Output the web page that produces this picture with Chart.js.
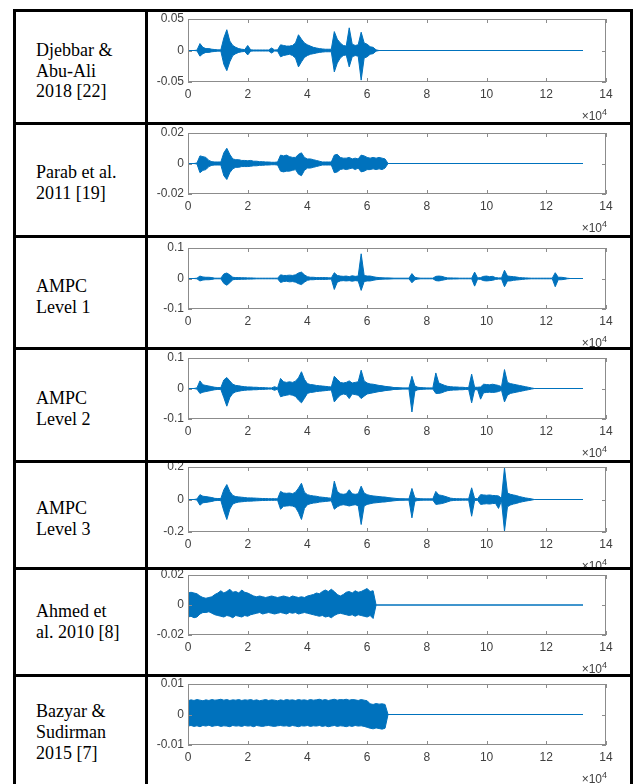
<!DOCTYPE html>
<html lang="en">
<head>
<meta charset="UTF-8" />
<title>Stego audio waveforms</title>
<script src="https://cdn.jsdelivr.net/npm/chart.js"></script>
<style>
  body {
    margin: 0;
    width: 636px;
    height: 784px;
    overflow: hidden;
    position: relative;
    background: white;
    font-family: 'Liberation Serif', 'Times New Roman', serif;
  }
  .rule { position: absolute; background: #000; z-index: 5; }
  .name {
    position: absolute;
    left: 16px;
    width: 129px;
    padding-left: 20px;
    box-sizing: border-box;
    display: flex;
    align-items: center;
    font-size: 18px;
    line-height: 20.7px;
    color: #000;
  }
  canvas { position: absolute; left: 148px; z-index: 1; }
</style>
</head>
<body>
<script>
  // ---- data ----
  const sampleStep = 1000;      // one envelope value every 1000 samples
  const totalSamples = 132300;  // every recording ends here (flat line)
  const xMax = 140000;
  const xTickStep = 20000;      // labels shown as 0..14 (x10^4)

  const rowNames = [
    ['Djebbar &', 'Abu-Ali', '2018 [22]'],
    ['Parab et al.', '2011 [19]'],
    ['AMPC', 'Level 1'],
    ['AMPC', 'Level 2'],
    ['AMPC', 'Level 3'],
    ['Ahmed et', 'al. 2010 [8]'],
    ['Bazyar &', 'Sudirman', '2015 [7]']
  ];
  const yLimits = [0.05, 0.02, 0.1, 0.1, 0.2, 0.02, 0.01];
  const yTickLabels = [
    ['-0.05', '0', '0.05'],
    ['-0.02', '0', '0.02'],
    ['-0.1', '0', '0.1'],
    ['-0.1', '0', '0.1'],
    ['-0.2', '0', '0.2'],
    ['-0.02', '0', '0.02'],
    ['-0.01', '0', '0.01']
  ];

  // upper / lower envelopes, units of 1e-3
  const djebbarHi = [0,0,0,0.5,11,5,3,3,2,1.5, 1,1,20,33,15,8,5,3,2,1.5, 8,1,0.8,0.8,0.8,0.8,0.8,0.8,4,0.8,
    1,9,8,7,7,8,12,25,18,12, 9,7,5,4,3,2.5,2,2,2,30, 18,12,8,7,36,10,8,9,29,12, 10,6,5,1,0];
  const djebbarLo = [0,0,0,-0.5,-9,-5,-3,-3,-2,-1.5, -1,-1,-22,-32,-18,-8,-5,-3,-2,-1.5, -7,-1,-0.8,-0.8,-0.8,-0.8,-0.8,-0.8,-4,-0.8,
    -1,-10,-8,-7,-6,-8,-12,-26,-18,-11, -8,-6,-5,-4,-3,-2.5,-2,-2,-2,-34, -20,-12,-8,-7,-26,-10,-8,-9,-47,-12, -10,-6,-5,-1,0];

  const parabHi = [0,0,0,0.3,5,4.5,4,2,1.2,1, 1,1,7,10,6,3,2.5,2.5,2,2, 1.8,2,1.5,1.5,1.2,1.2,1,1,0.8,0.8,
    1,5.5,5,5.5,4.5,4,4,6,7,4, 3,3,2.5,2,1.5,1,1,1,1,5.5, 6,4,3.5,3.5,4,3,3.5,3,5.5,5, 4,3.5,4,3.5,4,3.5,3,0];
  const parabLo = [0,0,0,-0.3,-6,-4.5,-4,-2,-1.2,-1, -1,-1,-8,-10.5,-6,-3.5,-2.5,-2.5,-2,-2, -2,-1.8,-1.5,-1.5,-1.2,-1.2,-1,-1,-0.8,-0.8,
    -1,-5,-5.5,-5,-5,-4.5,-4,-7,-8,-4.5, -3,-3,-2.5,-2,-1.5,-1,-1,-1,-1,-6, -5.5,-4,-3.5,-4,-3.5,-3,-4,-3,-5.5,-5, -4,-4,-3.5,-4,-3.5,-4,-3,0];

  const ampc1Hi = [0,0,0,1,8,5,4,4,3,1, 1,1,15,18,12,4,3,3,2.5,2.5, 2,2,1.5,1,1,1,1,1,1,1,
    1,12,10,10,11,10,12,18,21,12, 6,4,4,3,3,3,3,2.5,2,19, 10,8,7,8,6,9,7,8,81,10,
    8,8,6,4,3,2.5,2,2,1.5,1, 1,1,1,1,1,16,4,2,1,1, 1,1,1,7,8,7,4,2,2,1.5,
    1.5,1,1,1,1,1,21,2,3,7, 8,6,7,3,2,2,27,8,7,6, 5,3,2.5,2,1.5,1,1,1,1,1, 1,1,1,19,4,4,3,1,0];
  const ampc1Lo = [0,0,0,-1,-8,-5,-4,-4,-3,-1, -1,-1,-16,-22,-14,-4,-3,-3,-2.5,-2.5, -2,-2,-1.5,-1,-1,-1,-1,-1,-1,-1,
    -1,-13,-10,-9,-11,-10,-12,-17,-20,-12, -6,-4,-4,-3,-3,-3,-3,-2.5,-2,-36, -12,-8,-7,-8,-7,-9,-7,-8,-39,-10,
    -8,-8,-6,-4,-3,-2.5,-2,-2,-1.5,-1, -1,-1,-1,-1,-1,-14,-4,-2,-1,-1, -1,-1,-1,-7,-8,-6,-4,-2,-2,-1.5,
    -1.5,-1,-1,-1,-1,-1,-25,-2,-3,-7, -8,-7,-6,-3,-2,-2,-27,-8,-8,-6, -5,-4,-3,-2,-1.5,-1,-1,-1,-1,-1, -1,-1,-1,-27,-4,-4,-3,-1,0];

  const ampc2Hi = [0,0,0,2,25,12,10,8,6,4, 3,3,28,36,25,14,10,9,7,6, 5,5,4,4,3,3,2.5,2,2,6,
    2,33,22,20,22,20,24,35,55,30, 16,13,12,10,9,8,7,6,5,40, 30,20,18,20,25,18,20,22,60,25,
    18,15,14,12,10,9,7,6,5,3, 3,2.5,2,2,2,40,8,4,3,2.5, 2,2,2,51,18,14,10,7,6,5,
    5,4,4,3,3,47,4,4,5,14, 13,12,14,12,10,6,62,20,16,14, 12,10,8,6,4,2,0];
  const ampc2Lo = [0,0,0,-2,-16,-12,-10,-8,-6,-4, -3,-3,-30,-58,-30,-16,-11,-9,-7,-6, -5,-5,-4,-4,-3,-3,-2.5,-2,-2,-6,
    -2,-27,-24,-22,-20,-22,-26,-38,-47,-32, -16,-13,-12,-10,-9,-8,-7,-6,-5,-44, -32,-22,-18,-20,-33,-18,-20,-22,-33,-25,
    -18,-16,-14,-12,-10,-9,-7,-6,-5,-3, -3,-2.5,-2,-2,-2,-77,-8,-4,-3,-2.5, -2,-2,-2,-16,-16,-14,-10,-7,-6,-5,
    -5,-4,-4,-3,-3,-47,-4,-4,-35,-14, -13,-12,-13,-12,-10,-6,-44,-22,-16,-14, -12,-10,-8,-6,-4,-2,0];

  const ampc3Hi = [0,0,0,3,30,20,18,15,12,7, 6,6,60,92,50,25,18,16,14,12, 10,10,9,8,7,6,6,5,5,5,
    4,50,40,38,40,36,45,70,100,45, 30,25,22,20,16,14,12,10,8,113, 50,35,32,35,60,35,32,35,82,40,
    30,25,22,20,18,16,15,12,10,8, 6,5,5,4,4,68,10,6,5,4, 4,4,4,50,28,25,20,14,8,6,
    5,5,4,4,4,72,6,5,30,28, 26,28,25,24,22,8,195,40,32,28, 24,18,14,10,7,4,0];
  const ampc3Lo = [0,0,0,-3,-35,-20,-18,-15,-12,-7, -6,-6,-70,-123,-60,-28,-20,-16,-14,-12, -10,-10,-9,-8,-7,-6,-6,-5,-5,-5,
    -4,-60,-42,-40,-38,-40,-48,-80,-123,-55, -32,-26,-22,-20,-16,-14,-12,-10,-8,-60, -45,-36,-32,-35,-40,-35,-32,-38,-154,-40,
    -30,-26,-22,-20,-18,-16,-15,-12,-10,-8, -6,-5,-5,-4,-4,-113,-10,-6,-5,-4, -4,-4,-4,-30,-28,-25,-20,-14,-8,-6,
    -5,-5,-4,-4,-4,-103,-6,-5,-30,-28, -26,-28,-25,-24,-55,-8,-195,-45,-34,-28, -24,-18,-14,-10,-7,-4,0];

  const ahmedHi = [8,8.5,8,7.5,6,5,4.5,5,5.5,7, 8,9.5,8,9,10.5,8.5,9,8,10,8.5, 8,7,6,5.5,6,5.5,5,5.5,6,5.5,
    5,5.5,6,5.5,5,6,5.5,5,5.5,5, 6,6.5,7,8,7.5,9,10,9,10.5,9, 7,6,7,8.5,9,8,9.5,8.5,9,10, 11,9,9.5,0];
  const ahmedLo = [-8,-7.5,-8.5,-8,-6,-5,-5,-4.5,-5.5,-6.5, -7,-7.5,-8,-7,-7.5,-8.5,-7,-7.5,-8,-7, -7.5,-6.5,-6,-5.5,-5,-6,-5.5,-5,-5.5,-6,
    -5.5,-5,-5.5,-6,-5,-5.5,-5,-6,-5.5,-5, -5.5,-6,-6.5,-7,-7.5,-7,-8,-7.5,-8.5,-7, -6,-5.5,-6,-6.5,-7,-6.5,-7.5,-6.5,-7,-7.5, -8,-7,-9,0];

  const bazyarHi = [4.5,4.8,4.6,4.9,4.7,4.5,4.8,4.6,4.9,4.7, 4.8,5,4.7,4.9,4.6,4.8,4.7,4.9,4.6,4.8, 4.7,4.9,4.6,4.8,4.5,4.7,4.9,4.6,4.8,4.7,
    4.5,4.8,4.6,4.9,4.7,4.8,4.6,4.9,4.7,4.8, 4.6,4.9,4.7,4.8,5,4.7,4.9,4.6,4.8,5, 4.7,4.9,4.8,5,4.7,4.9,4.8,4.6,4.9,4.7,
    4.5,3.5,3.3,3.6,3.4,3.5,3.3,0];
  const bazyarLo = [-3.8,-3.6,-3.9,-3.7,-4,-3.6,-3.8,-3.5,-3.9,-3.7, -3.6,-3.9,-3.7,-3.8,-4,-3.6,-3.8,-3.7,-3.9,-3.6, -3.8,-3.7,-4,-3.6,-3.8,-3.9,-3.7,-3.6,-3.8,-3.9,
    -3.7,-3.6,-3.8,-3.7,-3.9,-3.6,-3.8,-4,-3.7,-3.8, -3.6,-3.9,-3.7,-3.8,-3.6,-3.9,-3.7,-4,-3.8,-3.6, -3.9,-3.7,-3.8,-4,-3.7,-3.9,-3.6,-3.8,-3.7,-3.9,
    -4.2,-4.5,-4.7,-4.4,-4.6,-4.8,-4.5,0];

  const envelopes = [
    [djebbarHi, djebbarLo], [parabHi, parabLo], [ampc1Hi, ampc1Lo], [ampc2Hi, ampc2Lo],
    [ampc3Hi, ampc3Lo], [ahmedHi, ahmedLo], [bazyarHi, bazyarLo]
  ];

  // ---- layout (page pixels) ----
  const ruleTops = [9, 122, 235, 347, 460, 567, 674];
  const ruleLefts = [13, 145, 630];
  const nameShift = [4, 3, 4, 4, 4, 0, -2];
  const plotBoxes = [[19, 82], [133, 194], [248, 309], [358, 419], [467, 532], [575, 635], [684, 745]];
  const lineColor = '#0072BD';
  const axisColor = '#8c8c8c';
  const textColor = '#404040';
  const tickFont = { family: "'Liberation Sans', Arial, sans-serif", size: 12 };

  ruleTops.forEach(t => {
    const d = document.createElement('div');
    d.className = 'rule';
    Object.assign(d.style, { left: '13px', top: t + 'px', width: '620px', height: '3px' });
    document.body.appendChild(d);
  });
  ruleLefts.forEach(l => {
    const d = document.createElement('div');
    d.className = 'rule';
    Object.assign(d.style, { left: l + 'px', top: '9px', width: '3px', height: '800px' });
    document.body.appendChild(d);
  });

  rowNames.forEach((lines, i) => {
    const top = ruleTops[i] + 3 + nameShift[i];
    const bottom = (i + 1 < ruleTops.length ? ruleTops[i + 1] : 792) + nameShift[i];
    const d = document.createElement('div');
    d.className = 'name';
    d.style.top = top + 'px';
    d.style.height = (bottom - top) + 'px';
    d.innerHTML = '<div>' + lines.join('<br>') + '</div>';
    document.body.appendChild(d);
  });

  // MATLAB-like box, inward ticks and the x10^4 exponent
  const matlabBox = {
    id: 'matlabBox',
    afterDatasetsDraw(chart) {
      const { ctx, chartArea: a, scales: { x, y } } = chart;
      ctx.save();
      ctx.strokeStyle = axisColor;
      ctx.lineWidth = 1;
      ctx.beginPath();
      x.ticks.forEach(t => {
        const px = Math.round(x.getPixelForValue(t.value)) + 0.5;
        ctx.moveTo(px, a.top); ctx.lineTo(px, a.top + 4);
        ctx.moveTo(px, a.bottom); ctx.lineTo(px, a.bottom - 4);
      });
      y.ticks.forEach(t => {
        const py = Math.round(y.getPixelForValue(t.value)) + 0.5;
        ctx.moveTo(a.left, py); ctx.lineTo(a.left + 4, py);
        ctx.moveTo(a.right, py); ctx.lineTo(a.right - 4, py);
      });
      ctx.stroke();
      ctx.strokeRect(a.left + 0.5, a.top + 0.5, a.width - 1, a.height - 1);

      ctx.fillStyle = textColor;
      ctx.textAlign = 'right';
      ctx.textBaseline = 'alphabetic';
      ctx.font = "9px 'Liberation Sans', Arial, sans-serif";
      ctx.fillText('4', a.right + 1, a.bottom + 33);
      const w4 = ctx.measureText('4').width;
      ctx.font = "12px 'Liberation Sans', Arial, sans-serif";
      ctx.fillText('\u00d710', a.right + 1 - w4, a.bottom + 37.5);
      ctx.restore();
    }
  };

  function toPoints(vals) {
    const pts = vals.map((v, i) => ({ x: i * sampleStep, y: v / 1000 }));
    pts.push({ x: totalSamples, y: 0 });
    return pts;
  }

  plotBoxes.forEach(([boxTop, boxBottom], i) => {
    const padTop = 12, xAxisH = 42;
    const cv = document.createElement('canvas');
    cv.width = 482;
    cv.height = boxBottom - boxTop + padTop + xAxisH;
    cv.style.top = (boxTop - padTop) + 'px';
    document.body.appendChild(cv);

    const lim = yLimits[i];
    const [hi, lo] = envelopes[i];
    new Chart(cv, {
      type: 'line',
      data: {
        datasets: [
          { data: toPoints(hi), borderColor: lineColor, backgroundColor: lineColor, fill: '+1' },
          { data: toPoints(lo), borderColor: lineColor, backgroundColor: lineColor, fill: false }
        ]
      },
      options: {
        responsive: false,
        animation: false,
        layout: { padding: { top: padTop, right: 24, left: 0, bottom: 0 } },
        elements: { point: { radius: 0 }, line: { borderWidth: 1, tension: 0 } },
        plugins: { legend: { display: false }, tooltip: { enabled: false } },
        scales: {
          x: {
            type: 'linear', min: 0, max: xMax,
            grid: { display: false, drawTicks: false },
            border: { display: false },
            ticks: {
              stepSize: xTickStep, padding: 5, color: textColor, font: tickFont,
              autoSkip: false, maxRotation: 0,
              callback: v => String(v / 10000)
            },
            afterFit: s => { s.height = xAxisH; }
          },
          y: {
            type: 'linear', min: -lim, max: lim,
            grid: { display: false, drawTicks: false },
            border: { display: false },
            afterBuildTicks: s => { s.ticks = [{ value: -lim }, { value: 0 }, { value: lim }]; },
            ticks: {
              padding: 4, color: textColor, font: tickFont,
              callback: (v, idx) => yTickLabels[i][idx]
            },
            afterFit: s => { s.width = 40; }
          }
        }
      },
      plugins: [matlabBox]
    });
  });
</script>
</body>
</html>
